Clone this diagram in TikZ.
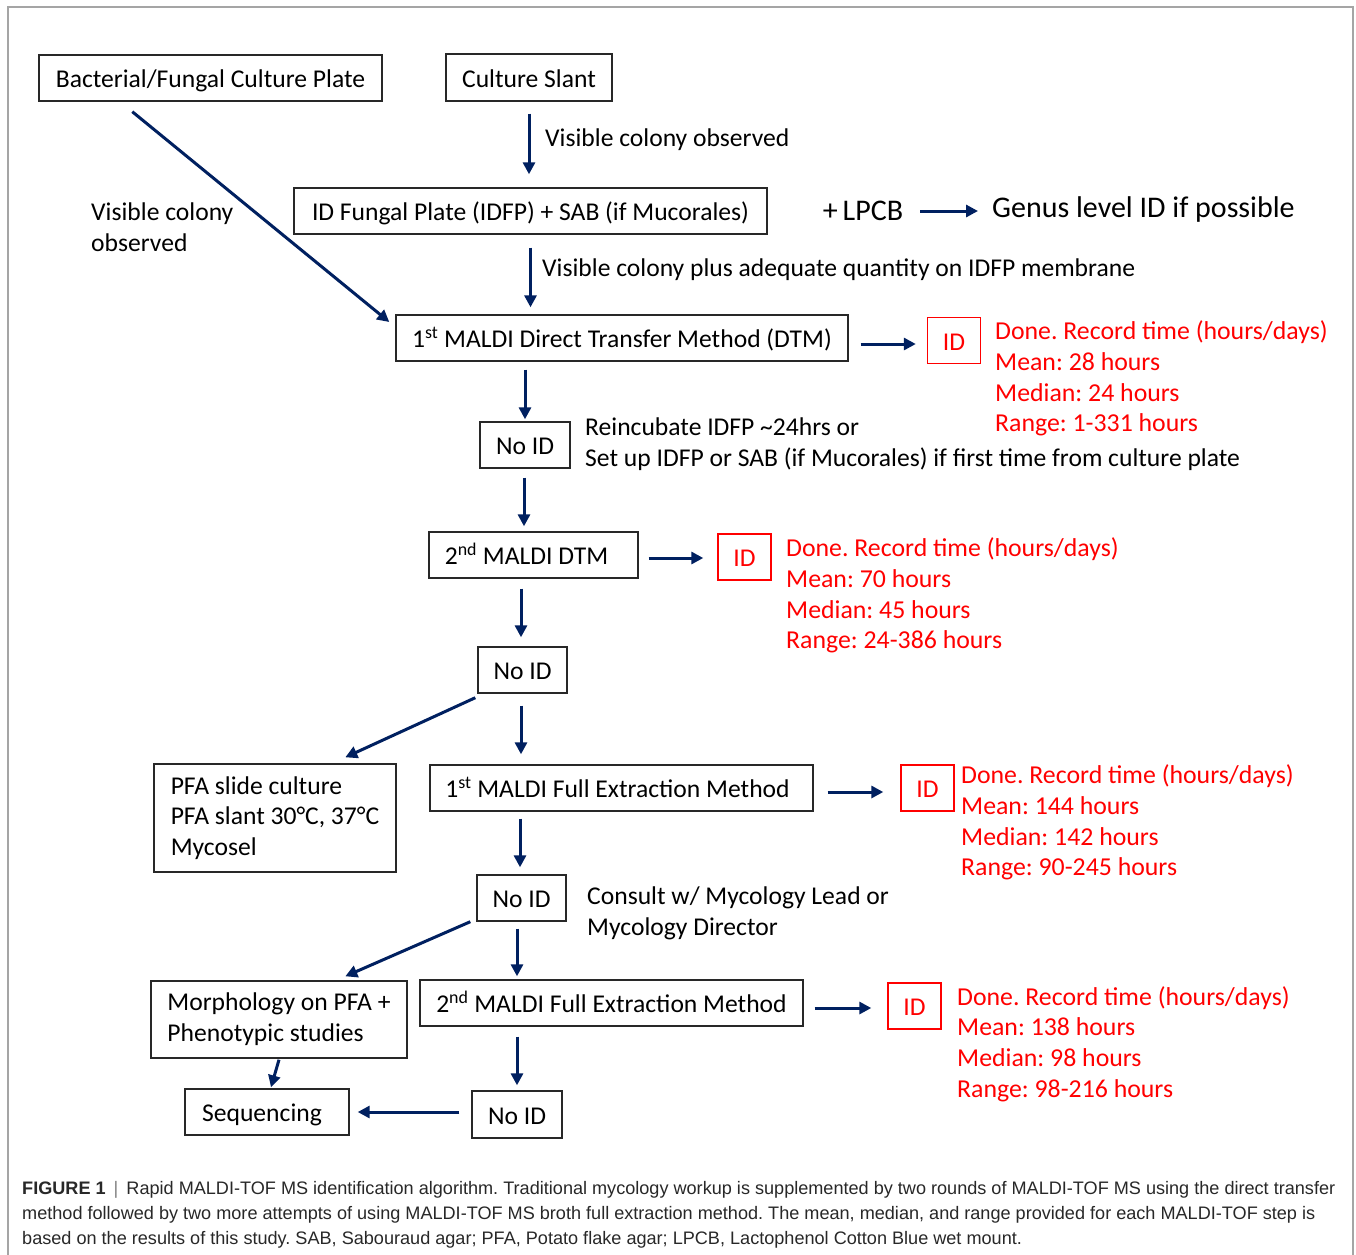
\documentclass[tikz,border=0pt]{standalone}
\usepackage{fontspec}
\setmainfont{Carlito}
\newfontfamily\capfont{Liberation Sans}
\usetikzlibrary{arrows.meta,calc}
\definecolor{navy}{RGB}{0,32,96}
\definecolor{boxline}{RGB}{40,40,40}
\definecolor{framegray}{RGB}{165,165,165}
\definecolor{capgray}{RGB}{40,40,40}
\newcommand{\fsz}{\frenchspacing\fontsize{25.6}{30.7}\selectfont}
\newcommand{\fred}{\frenchspacing\fontsize{25.8}{30.7}\selectfont}
\tikzset{
  stepbox/.style={draw=boxline, line width=1.4pt, inner sep=0pt, align=center, font=\fsz},
  oneline/.style={text height=19pt, text depth=0pt},
  idbox/.style={draw=red, line width=1.4pt, inner sep=0pt, text=red, font=\fsz, minimum width=53pt, minimum height=46pt, oneline},
  redtxt/.style={anchor=west, align=left, inner sep=0pt, text=red, font=\fred},
  lbl/.style={anchor=west, align=left, inner sep=0pt, font=\fsz},
  arr/.style={draw=navy, line width=3pt, -{Triangle[length=12pt,width=12pt]}},
  capline/.style={anchor=base west, inner sep=0pt, text=capgray, font=\capfont\frenchspacing\fontsize{18.1}{22}\selectfont}
}
\begin{document}
\begin{tikzpicture}[x=1pt,y=-1pt]
\useasboundingbox (0,0) rectangle (1356,1254);
\fill[white] (0,0) rectangle (1356,1254);
\draw[framegray, line width=1.5pt] (8,1256) -- (8,7) -- (1353,7) -- (1353,1256);

% boxes
\node[stepbox, oneline, minimum width=343pt, minimum height=46pt] (A) at (210.5,78) {Bacterial/Fungal Culture Plate};
\node[stepbox, oneline, minimum width=166pt, minimum height=47pt] (B) at (529,77.5) {Culture Slant};
\node[stepbox, oneline, minimum width=473pt, minimum height=46pt] (C) at (530.5,211) {ID Fungal Plate (IDFP) + SAB (if Mucorales)};
\node[stepbox, oneline, minimum width=452pt, minimum height=46pt] (D) at (622,338) {1\textsuperscript{st} MALDI Direct Transfer Method (DTM)};
\node[idbox] (ID1) at (954,340.5) {ID};
\node[stepbox, oneline, minimum width=90pt, minimum height=46pt] (N1) at (525,445) {No ID};
\node[stepbox, oneline, minimum width=209pt, minimum height=46pt] (E) at (533.5,555) {\hspace*{-14pt}2\textsuperscript{nd} MALDI DTM};
\node[idbox] (ID2) at (744.5,557) {ID};
\node[stepbox, oneline, minimum width=89pt, minimum height=46pt] (N2) at (522.5,670) {No ID};
\node[stepbox, minimum width=242pt, minimum height=108pt, align=left] (F) at (275,818) {PFA slide culture\\PFA slant 30°C, 37°C\\Mycosel};
\node[stepbox, oneline, minimum width=383pt, minimum height=46pt] (G) at (621.5,788) {\hspace*{-8pt}1\textsuperscript{st} MALDI Full Extraction Method};
\node[idbox] (ID3) at (927.5,788) {ID};
\node[stepbox, oneline, minimum width=89pt, minimum height=46pt] (N3) at (521.5,898) {No ID};
\node[stepbox, minimum width=256pt, minimum height=77pt, align=left] (H) at (279,1019.5) {Morphology on PFA +\\Phenotypic studies};
\node[stepbox, oneline, minimum width=383pt, minimum height=46pt] (I) at (611.5,1003) {2\textsuperscript{nd} MALDI Full Extraction Method};
\node[idbox] (ID4) at (914.5,1006) {ID};
\node[stepbox, oneline, minimum width=90pt, minimum height=47pt] (N4) at (517,1114.5) {No ID};
\node[stepbox, oneline, minimum width=164pt, minimum height=46pt] (S) at (267,1112) {\hspace*{-10pt}Sequencing};

% labels
\node[lbl] (L1) at (545,140) {Visible colony observed};
\node[lbl] (L2) at (542,270) {Visible colony plus adequate quantity on IDFP membrane};
\node[lbl] (L3) at (91,227.5) {Visible colony\\observed};
\node[lbl] (L4) at (585,444) {Reincubate IDFP \textasciitilde24hrs or\\Set up IDFP or SAB (if Mucorales) if first time from culture plate};
\node[lbl] (L5) at (587,913.5) {Consult w/ Mycology Lead or\\Mycology Director};
\node[inner sep=0pt, font=\fontsize{30}{34}\selectfont] (LP) at (863,211) {+\,LPCB};
\node[anchor=west, inner sep=0pt, font=\fontsize{30}{34}\selectfont] (GL) at (992,209) {Genus level ID if possible};

% red results
\node[redtxt] (R1) at (995,378.5) {Done. Record time (hours/days)\\Mean: 28 hours\\Median: 24 hours\\Range: 1-331 hours};
\node[redtxt] (R2) at (786,595.5) {Done. Record time (hours/days)\\Mean: 70 hours\\Median: 45 hours\\Range: 24-386 hours};
\node[redtxt] (R3) at (961,822.5) {Done. Record time (hours/days)\\Mean: 144 hours\\Median: 142 hours\\Range: 90-245 hours};
\node[redtxt] (R4) at (957,1044) {Done. Record time (hours/days)\\Mean: 138 hours\\Median: 98 hours\\Range: 98-216 hours};

% connectors
\draw[arr, shorten <=12pt, shorten >=13pt] (B.south) -- (B.south |- C.north);
\draw[arr, shorten <=13pt, shorten >=7pt] (C.south) -- (C.south |- D.north);
\draw[arr] ($(A.south west)+(94,10)$) -- ($(D.west)+(-6,-16)$);
\draw[arr] ($(D.east)+(12,6)$) -- ($(ID1.west)+(-11,3.5)$);
\draw[arr, shorten <=8pt, shorten >=2pt] (N1.north |- D.south) -- (N1.north);
\draw[arr, shorten <=9pt, shorten >=5pt] ($(N1.south)+(-1,0)$) -- ($(N1.south |- E.north)+(-1,0)$);
\draw[arr] ($(E.east)+(10,3)$) -- ($(ID2.west)+(-14,1)$);
\draw[arr, shorten <=10pt, shorten >=9pt] ($(N2.north |- E.south)+(-1.5,0)$) -- ($(N2.north)+(-1.5,0)$);
\draw[arr, shorten <=12pt, shorten >=10pt] ($(N2.south)+(-1.5,0)$) -- ($(N2.south |- G.north)+(-1.5,0)$);
\draw[arr] ($(N2.south west)+(-2,4)$) -- ($(F.north west)+(192,-6)$);
\draw[arr] ($(G.east)+(14,4)$) -- ($(ID3.west)+(-17,4)$);
\draw[arr, shorten <=7pt, shorten >=7pt] ($(N3.north |- G.south)+(-1.5,0)$) -- ($(N3.north)+(-1.5,0)$);
\draw[arr, shorten <=7pt, shorten >=3pt] ($(N3.south)+(-4.5,0)$) -- ($(N3.south |- I.north)+(-4.5,0)$);
\draw[arr] ($(N3.south west)+(-6,0)$) -- ($(H.north west)+(195,-4)$);
\draw[arr] ($(I.east)+(11,5)$) -- ($(ID4.west)+(-16,2)$);
\draw[arr, shorten <=10pt, shorten >=5pt] (N4.north |- I.south) -- (N4.north);
\draw[arr] ($(N4.west)+(-12,-2.5)$) -- ($(S.east)+(8,0)$);
\draw[arr] ($(H.south)+(0,1)$) -- ($(S.north)+(4,-1)$);
\draw[arr, shorten <=17pt, shorten >=14pt] (LP.east) -- (LP.east -| GL.west);

% caption
\node[capline] (C1) at (22,1194) {\textbf{FIGURE 1} \,{\color{gray}|}\, Rapid MALDI-TOF MS identification algorithm. Traditional mycology workup is supplemented by two rounds of MALDI-TOF MS using the direct transfer};
\node[capline] (C2) at (22,1219) {method followed by two more attempts of using MALDI-TOF MS broth full extraction method. The mean, median, and range provided for each MALDI-TOF step is};
\node[capline] (C3) at (22,1244) {based on the results of this study. SAB, Sabouraud agar; PFA, Potato flake agar; LPCB, Lactophenol Cotton Blue wet mount.};
\end{tikzpicture}
\end{document}
